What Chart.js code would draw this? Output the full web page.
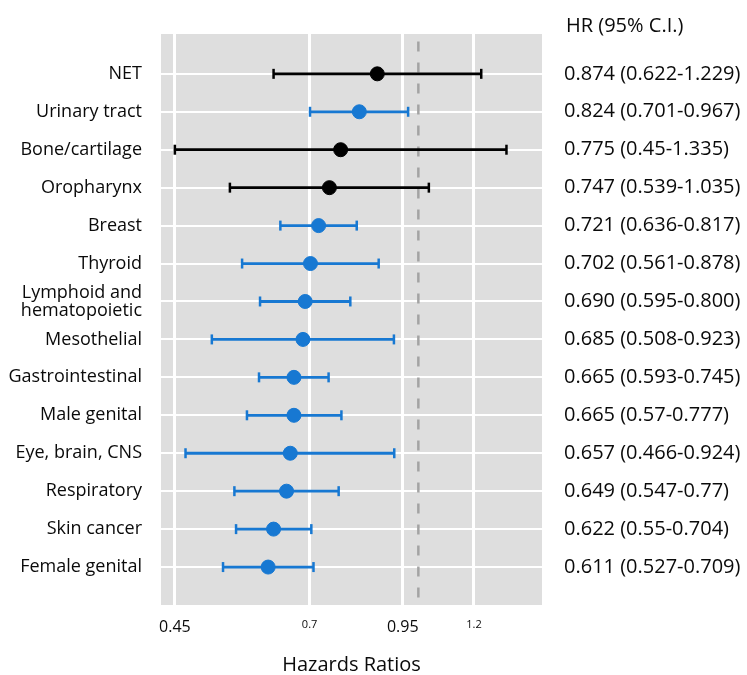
<!DOCTYPE html>
<html><head><meta charset="utf-8">
<script src="https://cdn.jsdelivr.net/npm/chart.js@4/dist/chart.umd.min.js"></script>
<style>html,body{margin:0;padding:0;background:#fff;overflow:hidden}</style>
</head><body>
<canvas id="c" width="747" height="675"></canvas>
<script>
// ---- data ----
const categories = ['NET','Urinary tract','Bone/cartilage','Oropharynx','Breast','Thyroid',['Lymphoid and','hematopoietic'],'Mesothelial','Gastrointestinal','Male genital','Eye, brain, CNS','Respiratory','Skin cancer','Female genital'];
const hr      = [0.874,0.824,0.775,0.747,0.721,0.702,0.690,0.685,0.665,0.665,0.657,0.649,0.622,0.611];
const ciLow   = [0.622,0.701,0.45,0.539,0.636,0.561,0.595,0.508,0.593,0.57,0.466,0.547,0.55,0.527];
const ciHigh  = [1.229,0.967,1.335,1.035,0.817,0.878,0.800,0.923,0.745,0.777,0.924,0.77,0.704,0.709];
const hrLabels = ['0.874 (0.622-1.229)','0.824 (0.701-0.967)','0.775 (0.45-1.335)','0.747 (0.539-1.035)','0.721 (0.636-0.817)','0.702 (0.561-0.878)','0.690 (0.595-0.800)','0.685 (0.508-0.923)','0.665 (0.593-0.745)','0.665 (0.57-0.777)','0.657 (0.466-0.924)','0.649 (0.547-0.77)','0.622 (0.55-0.704)','0.611 (0.527-0.709)'];
const xTicks = [0.45,0.7,0.95,1.2];
const xTickLabels = ['0.45','0.7','0.95','1.2'];
const referenceHR = 1;
const hrHeader = 'HR (95% C.I.)';
const xTitle = 'Hazards Ratios';

// ---- styles ----
const BLUE = '#1778d2', BLACK = '#000000', BG = '#dedede', TXT = '#0a0a0a';
const FONT = "'Open Sans', sans-serif";
const colorOf = i => ciHigh[i] < referenceHR ? BLUE : BLACK;
const rowIdx = categories.map((_, i) => i);

const ciSets = rowIdx.map(i => ({
  data: [{x: ciLow[i], y: i}, {x: ciHigh[i], y: i}],
  showLine: true, borderColor: colorOf(i), borderWidth: 2.8,
  pointStyle: 'line', pointRotation: 90, pointRadius: 5,
  pointBorderColor: colorOf(i), pointBorderWidth: 2.5, pointBackgroundColor: colorOf(i),
  order: 1
}));

const bgPlugin = {
  id: 'bg',
  beforeDraw(chart) {
    const {ctx, chartArea: a} = chart;
    ctx.save(); ctx.fillStyle = BG;
    ctx.fillRect(a.left, a.top, a.right - a.left, a.bottom - a.top);
    ctx.restore();
  },
  afterDraw(chart) {
    const {ctx, chartArea: a} = chart;
    const yR = chart.scales.yR;
    ctx.save(); ctx.fillStyle = TXT; ctx.font = "20px " + FONT;
    ctx.textAlign = 'left'; ctx.textBaseline = 'middle';
    ctx.fillText(hrHeader, yR.left + 24, a.top - 8);
    ctx.restore();
  }
};

const yBase = {
  type: 'linear', min: -1.05, max: 14, reverse: true,
  afterBuildTicks: s => { s.ticks = rowIdx.map(v => ({value: v})); },
  border: {display: false}
};

new Chart(document.getElementById('c'), {
  type: 'scatter',
  data: {
    datasets: [
      { data: hr.map((v, i) => ({x: v, y: i})), pointRadius: 7, pointHoverRadius: 7,
        pointBackgroundColor: rowIdx.map(colorOf), pointBorderColor: rowIdx.map(colorOf),
        pointBorderWidth: 1, order: 0 },
      ...ciSets,
      { data: [{x: referenceHR, y: -0.85}, {x: referenceHR, y: 14}], showLine: true,
        borderColor: '#a3a3a3', borderWidth: 2.5, borderDash: [10, 11], pointRadius: 0, order: 2 }
    ]
  },
  options: {
    responsive: false, animation: false, devicePixelRatio: 1,
    layout: {padding: {top: 33, left: 0, right: 0, bottom: 0}},
    plugins: {legend: {display: false}, tooltip: {enabled: false}},
    scales: {
      x: {
        type: 'logarithmic', min: 0.43, max: 1.5,
        afterBuildTicks: s => { s.ticks = xTicks.map(v => ({value: v})); },
        afterFit: s => { s.height = 70; },
        border: {display: false},
        grid: {color: '#ffffff', lineWidth: 3, drawTicks: false},
        ticks: {
          padding: 13, color: TXT, maxRotation: 0, autoSkip: false,
          font: c => ({family: FONT, size: (c.index % 2 === 0) ? 16 : 11}),
          callback: (v, i) => xTickLabels[i]
        },
        title: {display: true, text: xTitle, color: TXT, font: {family: FONT, size: 20, lineHeight: 1}, padding: {top: 0, bottom: 0}}
      },
      y: Object.assign({}, yBase, {
        position: 'left',
        afterFit: s => { s.width = 161; },
        grid: {color: '#ffffff', lineWidth: 2, drawTicks: false},
        ticks: {padding: 19, color: TXT, autoSkip: false, font: {family: FONT, size: 18, lineHeight: 1},
          callback: (v, i) => categories[i]}
      }),
      yR: Object.assign({}, yBase, {
        position: 'right',
        afterFit: s => { s.width = 205; },
        grid: {display: false, drawTicks: false},
        ticks: {padding: 22, color: TXT, autoSkip: false, font: {family: FONT, size: 20},
          callback: (v, i) => hrLabels[i]}
      })
    }
  },
  plugins: [bgPlugin]
});
</script>
</body></html>
